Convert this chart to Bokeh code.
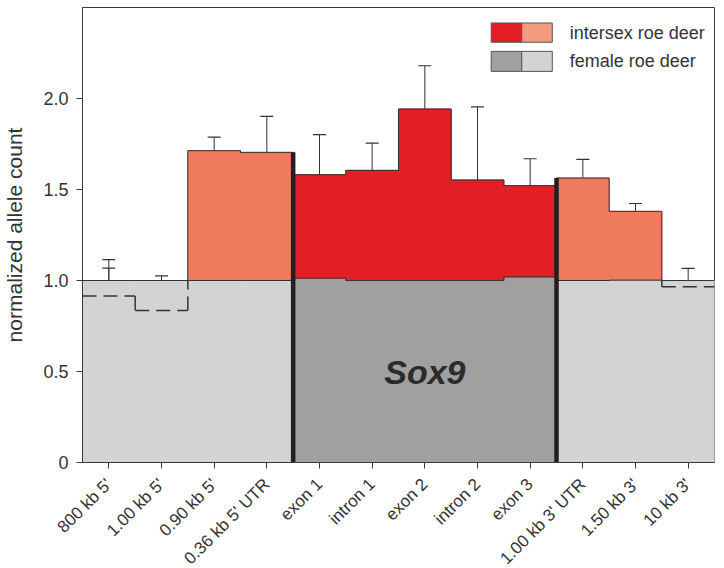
import math
from bokeh.plotting import figure
from bokeh.models import Range1d, FixedTicker, ColumnDataSource, Whisker, TeeHead, Label
from bokeh.core.properties import value
from bokeh.embed import file_html
from bokeh.resources import INLINE

# ---------------- data ----------------
regions = ["800 kb 5'", "1.00 kb 5'", "0.90 kb 5'", "0.36 kb 5' UTR", "exon 1", "intron 1",
           "exon 2", "intron 2", "exon 3", "1.00 kb 3' UTR", "1.50 kb 3'", "10 kb 3'"]
in_sox9 = [False, False, False, False, True, True, True, True, True, False, False, False]
intersex = [1.00, 1.00, 1.713, 1.704, 1.581, 1.605, 1.942, 1.552, 1.521, 1.563, 1.380, 1.00]
intersex_err = [0.068, 0.025, 0.075, 0.198, 0.221, 0.150, 0.238, 0.402, 0.148, 0.102, 0.043, 0.067]
female = [0.915, 0.835, 1.00, 1.00, 1.013, 1.00, 1.00, 1.00, 1.02, 1.00, 1.002, 0.966]
female_err = [0.20, 0.007, 0.0, 0.035, 0.021, 0.030, 0.0, 0.0, 0.010, 0.010, 0.0, 0.0]
baseline = 1.0
y_ticks = [0, 0.5, 1.0, 1.5, 2.0]
y_tick_labels = ["0", "0.5", "1.0", "1.5", "2.0"]
legend_labels = ["intersex roe deer", "female roe deer"]
gene_label = "Sox9"

# ---------------- styles ----------------
RED = "#e31e24"
SALMON = "#ef7a5e"
SALMON_LEG = "#f39b7e"
DGREY = "#a0a0a0"
LGREY = "#d1d3d4"
INK = "#333333"
FONT = "Liberation Sans"

n = len(regions)
p = figure(frame_width=632, frame_height=455, output_backend="svg", toolbar_location=None,
           x_range=Range1d(0, n), y_range=Range1d(0, 2.5),
           min_border_left=80, min_border_right=2, min_border_top=7, min_border_bottom=60)
p.background_fill_color = "white"
p.border_fill_color = "white"
p.outline_line_color = "#3a3a3a"
p.outline_line_width = 1
p.xgrid.visible = False
p.ygrid.visible = False

# grey (female / baseline) fill
left = list(range(n))
right = [i + 1 for i in range(n)]
grey_top = [max(f, baseline) for f in female]
grey_cols = [DGREY if s else LGREY for s in in_sox9]
p.quad(left=left, right=right, bottom=[0] * n, top=grey_top,
       fill_color=grey_cols, line_color=grey_cols, line_width=1)

# intersex fill above female
red_cols = [RED if s else SALMON for s in in_sox9]
p.quad(left=left, right=right, bottom=grey_top, top=intersex,
       fill_color=red_cols, line_color=red_cols, line_width=1)

# female outline: solid where >= baseline, dashed where below
sol_x0, sol_x1, sol_y0, sol_y1 = [], [], [], []
dash_x0, dash_x1, dash_y0, dash_y1 = [], [], [], []
low = [f < baseline - 0.01 for f in female]
for i in range(n):
    if low[i]:
        dash_x0.append(i); dash_x1.append(i + 1); dash_y0.append(female[i]); dash_y1.append(female[i])
    else:
        sol_x0.append(i); sol_x1.append(i + 1); sol_y0.append(female[i]); sol_y1.append(female[i])
for j in range(1, n):
    a, b = female[j - 1], female[j]
    if low[j - 1] or low[j]:
        dash_x0.append(j); dash_x1.append(j); dash_y0.append(a); dash_y1.append(b)
    else:
        sol_x0.append(j); sol_x1.append(j); sol_y0.append(a); sol_y1.append(b)
p.segment(x0=sol_x0, x1=sol_x1, y0=sol_y0, y1=sol_y1, line_color=INK, line_width=1)
p.segment(x0=dash_x0, x1=dash_x1, y0=dash_y0, y1=dash_y1, line_color=INK, line_width=1.5,
          line_dash="14 7")

# intersex outline (step)
p.step(x=list(range(n + 1)), y=intersex + [intersex[-1]], mode="after", line_color=INK, line_width=1)

# Sox9 boundaries (thick lines)
first = in_sox9.index(True)
last = n - 1 - in_sox9[::-1].index(True)
bx = [first, last + 1]
btop = [max(intersex[first - 1], intersex[first]), max(intersex[last], intersex[last + 1])]
p.segment(x0=bx, x1=bx, y0=[0, 0], y1=btop, line_color="#231f20", line_width=4.5)

# error bars
centers = [i + 0.5 for i in range(n)]
src_i = ColumnDataSource(dict(x=centers, lo=intersex, hi=[v + e for v, e in zip(intersex, intersex_err)]))
fx = [c for c, e in zip(centers, female_err) if e > 0]
flo = [v for v, e in zip(female, female_err) if e > 0]
fhi = [v + e for v, e in zip(female, female_err) if e > 0]
src_f = ColumnDataSource(dict(x=fx, lo=flo, hi=fhi))
for src in (src_i, src_f):
    w = Whisker(base="x", lower="lo", upper="hi", source=src, dimension="height",
                line_color=INK, line_width=1,
                upper_head=TeeHead(size=13, line_color=INK, line_width=1.2), lower_head=None)
    p.add_layout(w)

# gene label
p.add_layout(Label(x=(first + last + 1) / 2, y=0.5, text=gene_label, text_align="center",
                   text_baseline="middle", text_font=FONT, text_font_size="34px",
                   text_font_style="bold italic", text_color="#2b2b2b"))

# legend (manual, two-tone swatches)
lx0, lxm, lx1 = 7.76, 8.34, 8.92
ly = [(2.309, 2.415), (2.149, 2.259)]
p.quad(left=[lx0, lxm, lx0, lxm], right=[lxm, lx1, lxm, lx1],
       bottom=[ly[0][0], ly[0][0], ly[1][0], ly[1][0]], top=[ly[0][1], ly[0][1], ly[1][1], ly[1][1]],
       fill_color=[RED, SALMON_LEG, DGREY, LGREY], line_color="#555555", line_width=1)
for (b, t), lab in zip(ly, legend_labels):
    p.add_layout(Label(x=9.25, y=(b + t) / 2, text=lab, text_baseline="middle", text_align="left",
                       text_font=FONT, text_font_size="18px", text_color=INK))

# axes
p.xaxis.ticker = FixedTicker(ticks=centers)
p.xaxis.major_label_overrides = {c: r for c, r in zip(centers, regions)}
p.xaxis.major_label_orientation = math.pi / 4
p.yaxis.ticker = FixedTicker(ticks=y_ticks)
p.yaxis.major_label_overrides = {t: l for t, l in zip(y_ticks, y_tick_labels)}
p.yaxis.axis_label = "normalized allele count"
for ax in (p.xaxis, p.yaxis):
    ax.axis_line_color = "#3a3a3a"
    ax.major_tick_line_color = "#3a3a3a"
    ax.major_tick_out = 6
    ax.major_tick_in = 0
    ax.minor_tick_line_color = None
    ax.major_label_text_font = FONT
    ax.major_label_text_color = INK
p.xaxis.major_label_text_font_size = "17px"
p.yaxis.major_label_text_font_size = "18px"
p.xaxis.major_label_standoff = 13
p.yaxis.major_label_standoff = 8
p.yaxis.axis_label_text_font = FONT
p.yaxis.axis_label_text_font_size = "21px"
p.yaxis.axis_label_text_font_style = "normal"
p.yaxis.axis_label_text_color = INK
p.yaxis.axis_label_standoff = 14

open("out.html", "w").write(file_html(p, INLINE))
